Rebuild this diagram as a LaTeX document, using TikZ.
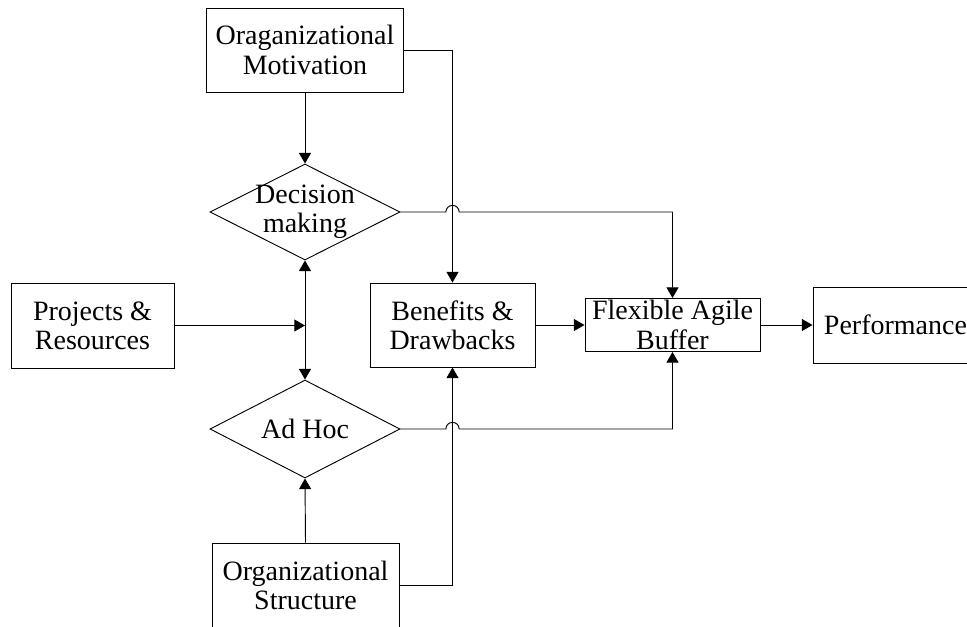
\documentclass[tikz,border=0pt]{standalone}
\usepackage{fontspec}
\setmainfont{Liberation Serif}
\usetikzlibrary{shapes.geometric, arrows.meta, positioning, calc}

\begin{document}
\begin{tikzpicture}[x=0.75pt, y=-0.75pt,
    box/.style={rectangle, draw, line width=0.7pt, align=center, inner sep=0pt, font=\fontsize{21}{22}\selectfont},
    dia/.style={diamond, draw, line width=0.7pt, inner sep=0pt},
    lbl/.style={align=center, inner sep=0pt, font=\fontsize{21}{22}\selectfont},
    arr/.style={line width=0.7pt, -{Triangle[width=9pt, length=8pt]}},
    dblarr/.style={line width=0.7pt, {Triangle[width=9pt, length=8pt]}-{Triangle[width=9pt, length=8pt]}}]
    \useasboundingbox (0,0) rectangle (967,626);
    \clip (0,0) rectangle (967,626);

    % Boxes
    \node[box, minimum width=147.75pt, minimum height=63pt] (motiv) at (305,50) {Oraganizational\\Motivation};
    \node[box, minimum width=122.25pt, minimum height=63.75pt] (proj) at (92.5,325.5) {Projects \&\\Resources};
    \node[box, minimum width=123.75pt, minimum height=63pt] (benef) at (452.5,325) {Benefits \&\\Drawbacks};
    \node[box, minimum width=131.25pt, minimum height=39.75pt] (flex) at (672.5,325) {Flexible Agile\\Buffer};
    \node[box, minimum width=123.75pt, minimum height=57pt] (perf) at (895.5,325) {Performance};
    \node[box, minimum width=140.25pt, minimum height=63.75pt] (struct) at (305.5,585.5) {Organizational\\Structure};

    % Diamonds
    \node[dia, minimum width=142.5pt, minimum height=72pt] (decide) at (305,212) {};
    \node[lbl] (decidetxt) at (decide) {Decision\\making};
    \node[dia, minimum width=142.5pt, minimum height=73.5pt] (adhoc) at (305,429) {};
    \node[lbl] (adhoctxt) at (adhoc) {Ad Hoc};

    % Crossing points
    \coordinate (hopdec) at (benef.north |- decide.east);
    \coordinate (hopadhoc) at (benef.south |- adhoc.east);
    \coordinate (join) at (decide.south |- proj.east);

    % Arrows
    \draw[arr] (motiv.south) -- (decide.north);
    \draw[arr] (motiv.east) -| (benef.north);
    \draw[arr] (decide.east) -- ([xshift=-5pt]hopdec) arc (180:0:5pt) -| (flex.north);
    \draw[dblarr] (decide.south) -- (adhoc.north);
    \draw[arr] (proj.east) -- (join);
    \draw[arr] (benef.east) -- (flex.west);
    \draw[arr] (flex.east) -- (perf.west);
    \draw[arr] (adhoc.east) -- ([xshift=-5pt]hopadhoc) arc (180:0:5pt) -| (flex.south);
    \draw[arr] (struct.north) -- (adhoc.south);
    \draw[arr] (struct.east) -| (benef.south);
\end{tikzpicture}
\end{document}
